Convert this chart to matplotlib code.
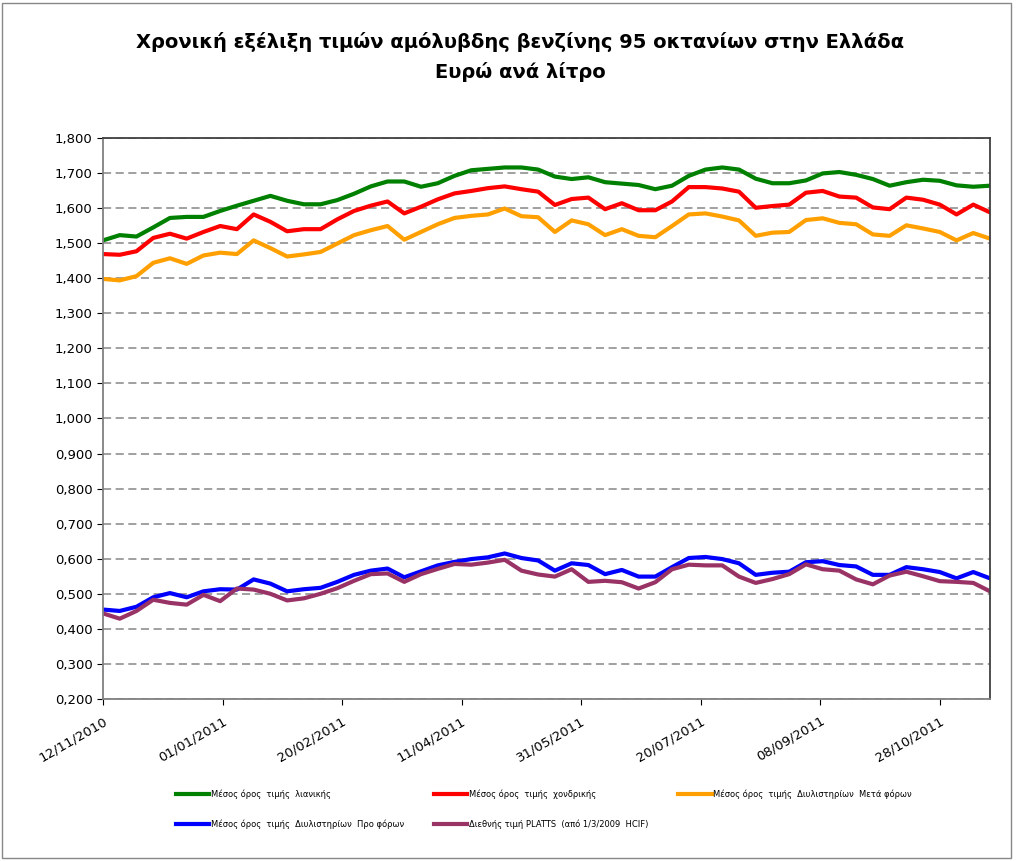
import matplotlib
matplotlib.use("Agg")
import matplotlib.pyplot as plt
import matplotlib.dates as mdates
from matplotlib.patches import Rectangle
from matplotlib.ticker import FuncFormatter, MultipleLocator
import numpy as np
import pandas as pd

# weekly observations starting 12/11/2010
dates = pd.date_range("2010-11-12", periods=54, freq="7D")

retail = [1.508, 1.523, 1.519, 1.545, 1.572, 1.575, 1.575, 1.592, 1.607, 1.621,
          1.635, 1.621, 1.611, 1.611, 1.623, 1.641, 1.662, 1.676, 1.676, 1.661,
          1.671, 1.692, 1.708, 1.712, 1.716, 1.716, 1.710, 1.690, 1.683, 1.688,
          1.674, 1.670, 1.666, 1.654, 1.664, 1.692, 1.710, 1.716, 1.710, 1.684,
          1.671, 1.671, 1.679, 1.699, 1.703, 1.695, 1.683, 1.664, 1.674, 1.681,
          1.678, 1.665, 1.661, 1.664]

wholesale = [1.469, 1.467, 1.477, 1.515, 1.527, 1.513, 1.532, 1.549, 1.540, 1.582,
             1.561, 1.534, 1.540, 1.540, 1.568, 1.592, 1.607, 1.619, 1.585, 1.604,
             1.625, 1.642, 1.649, 1.657, 1.662, 1.654, 1.647, 1.609, 1.626, 1.630,
             1.597, 1.614, 1.594, 1.594, 1.619, 1.660, 1.660, 1.656, 1.647, 1.601,
             1.606, 1.610, 1.644, 1.649, 1.633, 1.630, 1.602, 1.597, 1.630, 1.624,
             1.610, 1.582, 1.610, 1.588]

refinery_after_tax = [1.398, 1.394, 1.406, 1.444, 1.457, 1.441, 1.465, 1.473, 1.469, 1.508,
                      1.486, 1.462, 1.468, 1.475, 1.499, 1.523, 1.537, 1.549, 1.510, 1.532,
                      1.554, 1.572, 1.578, 1.582, 1.599, 1.577, 1.574, 1.532, 1.565, 1.554,
                      1.523, 1.540, 1.521, 1.517, 1.549, 1.582, 1.585, 1.576, 1.565, 1.521,
                      1.530, 1.532, 1.566, 1.571, 1.558, 1.554, 1.525, 1.521, 1.551, 1.542,
                      1.532, 1.508, 1.529, 1.513]

refinery_pre_tax = [0.455, 0.451, 0.463, 0.490, 0.502, 0.490, 0.507, 0.513, 0.512, 0.541,
                    0.529, 0.507, 0.513, 0.517, 0.534, 0.554, 0.566, 0.572, 0.547, 0.564,
                    0.581, 0.591, 0.599, 0.604, 0.615, 0.602, 0.595, 0.566, 0.587, 0.582,
                    0.556, 0.568, 0.549, 0.549, 0.576, 0.602, 0.605, 0.599, 0.587, 0.554,
                    0.560, 0.563, 0.590, 0.593, 0.582, 0.578, 0.554, 0.554, 0.576, 0.570,
                    0.562, 0.544, 0.562, 0.544]

platts = [0.444, 0.429, 0.451, 0.483, 0.474, 0.469, 0.497, 0.479, 0.515, 0.512,
          0.500, 0.481, 0.487, 0.500, 0.516, 0.537, 0.556, 0.558, 0.534, 0.556,
          0.571, 0.585, 0.583, 0.589, 0.597, 0.566, 0.555, 0.549, 0.570, 0.534,
          0.537, 0.533, 0.515, 0.533, 0.570, 0.583, 0.581, 0.581, 0.549, 0.531,
          0.542, 0.556, 0.584, 0.570, 0.566, 0.541, 0.527, 0.552, 0.563, 0.550,
          0.536, 0.534, 0.531, 0.507]

labels = ["Μέσος όρος  τιμής  λιανικής",
          "Μέσος όρος  τιμής  χονδρικής",
          "Μέσος όρος  τιμής  Διυλιστηρίων  Μετά φόρων",
          "Μέσος όρος  τιμής  Διυλιστηρίων  Προ φόρων",
          "Διεθνής τιμή PLATTS  (από 1/3/2009  HCIF)"]
colors = ["#008000", "#FF0000", "#FFA000", "#0000FF", "#993366"]

fig = plt.figure(figsize=(10.2, 8.61), dpi=100)
ax = fig.add_axes([0.101, 0.1882, 0.8696, 0.6515])

series = [retail, wholesale, refinery_after_tax, refinery_pre_tax, platts]
lines = []
for vals, lab, col in zip(series, labels, colors):
    ln, = ax.plot(dates, vals, color=col, lw=3, label=lab, solid_joinstyle="round")
    lines.append(ln)

ax.set_ylim(0.2, 1.8)
ax.yaxis.set_major_locator(MultipleLocator(0.1))
ax.yaxis.set_major_formatter(FuncFormatter(lambda v, p: f"{v:.3f}".replace(".", ",")))
ax.set_xlim(dates[0], dates[-1])
ticks = [dates[0] + pd.Timedelta(days=50 * k) for k in range(8)]
ax.set_xticks(ticks)
ax.xaxis.set_major_formatter(mdates.DateFormatter("%d/%m/%Y"))
plt.setp(ax.get_xticklabels(), rotation=30, ha="right", rotation_mode="anchor")
ax.tick_params(axis="both", labelsize=9.5, colors="#000000", length=4)
ax.tick_params(axis="x", pad=7)

ax.grid(axis="y", color="#999999", linestyle=(0, (4.5, 2.5)), linewidth=1.3)
ax.set_axisbelow(True)
for side in ["left", "bottom"]:
    ax.spines[side].set_color("#808080")
    ax.spines[side].set_linewidth(1.3)
for side in ["top", "right"]:
    ax.spines[side].set_color("#404040")
    ax.spines[side].set_linewidth(1.3)

fig.text(0.51, 0.951, "Χρονική εξέλιξη τιμών αμόλυβδης βενζίνης 95 οκτανίων στην Ελλάδα",
         ha="center", va="center", fontsize=14, fontweight="bold")
fig.text(0.51, 0.916, "Ευρώ ανά λίτρο", ha="center", va="center",
         fontsize=14, fontweight="bold")

order = [0, 3, 1, 4, 2]
fig.legend([lines[i] for i in order], [labels[i] for i in order],
           loc="upper left", bbox_to_anchor=(0.165, 0.092), ncol=3,
           frameon=False, fontsize=6, handlelength=4, handletextpad=0.2,
           columnspacing=3.6, labelspacing=2.5)

fig.patches.append(Rectangle((0.002, 0.003), 0.989, 0.994, transform=fig.transFigure,
                             fill=False, edgecolor="#888888", lw=1))

fig.savefig("out.png", dpi=100)
